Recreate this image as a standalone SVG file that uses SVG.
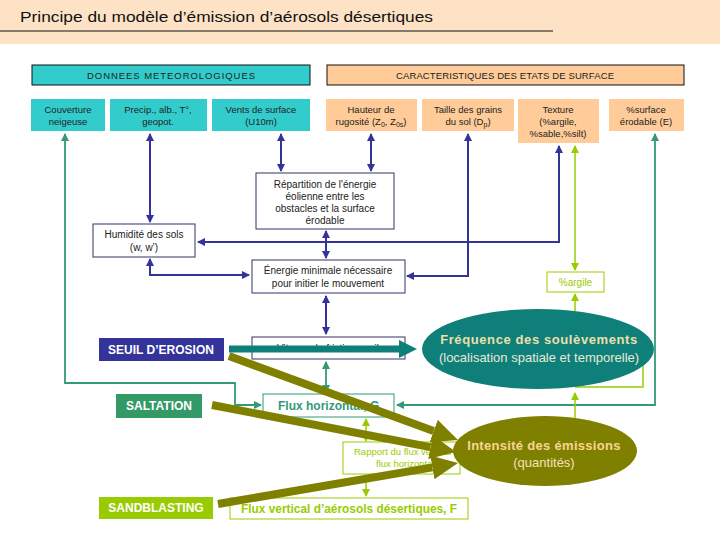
<svg xmlns="http://www.w3.org/2000/svg" width="720" height="540" viewBox="0 0 720 540">
<style>
text{font-family:"Liberation Sans",Arial,sans-serif;}
.t{font-size:9.5px;fill:#222;text-anchor:middle;}
.m{font-size:10px;fill:#222;text-anchor:middle;}
.b{font-size:12px;font-weight:bold;fill:#fff;text-anchor:middle;}
.nv{fill:none;stroke:#333399;stroke-width:2;}
.gr{fill:none;stroke:#339977;stroke-width:1.8;}
.lm{fill:none;stroke:#99CC00;stroke-width:1.5;}
.bx{fill:#fff;stroke:#333366;stroke-width:1;}
</style>
<defs>
<marker id="an" viewBox="0 -4 8 8" refX="7" refY="0" markerWidth="8" markerHeight="8" markerUnits="userSpaceOnUse" orient="auto-start-reverse"><path d="M0,-4 L8,0 L0,4 z" fill="#333399"/></marker>
<marker id="ag" viewBox="0 -4 8 8" refX="7" refY="0" markerWidth="8" markerHeight="8" markerUnits="userSpaceOnUse" orient="auto-start-reverse"><path d="M0,-4 L8,0 L0,4 z" fill="#339977"/></marker>
<marker id="al" viewBox="0 -4 8 8" refX="7" refY="0" markerWidth="8" markerHeight="8" markerUnits="userSpaceOnUse" orient="auto-start-reverse"><path d="M0,-4 L8,0 L0,4 z" fill="#99CC00"/></marker>
<marker id="ao" viewBox="0 -12 26 24" refX="0" refY="0" markerWidth="26" markerHeight="24" markerUnits="userSpaceOnUse" orient="auto"><path d="M0,-12 L26,0 L0,12 z" fill="#808000"/></marker>
<marker id="at" viewBox="0 -9 18 18" refX="0" refY="0" markerWidth="18" markerHeight="18" markerUnits="userSpaceOnUse" orient="auto"><path d="M0,-9 L18,0 L0,9 z" fill="#0F7F7A"/></marker>
</defs>

<g id="header">
<rect x="0" y="0" width="720" height="44" fill="#FDE2C6"/>
<text x="20" y="22" font-size="15.5" fill="#111" textLength="413" lengthAdjust="spacingAndGlyphs">Principe du modèle d’émission d’aérosols désertiques</text>
<line x1="0" y1="31" x2="553" y2="31" stroke="#111" stroke-width="1"/>
</g>

<g id="donnees">
<rect x="32" y="65" width="278" height="20" fill="#33CCCC" stroke="#111" stroke-width="1"/>
<text class="t" x="171" y="78.5" font-size="9" textLength="168" lengthAdjust="spacing">DONNEES METEOROLOGIQUES</text>
</g>
<g id="caracteristiques">
<rect x="327" y="65" width="357" height="20" fill="#FFCC99" stroke="#111" stroke-width="1"/>
<text class="t" x="505" y="78.5" font-size="9" textLength="218" lengthAdjust="spacing">CARACTERISTIQUES DES ETATS DE SURFACE</text>
</g>

<g id="couverture">
<rect x="31" y="99" width="74" height="32" fill="#33CCCC"/>
<text class="t" x="68" y="113">Couverture</text>
<text class="t" x="68" y="125">neigeuse</text>
</g>
<g id="precip">
<rect x="110" y="99" width="97" height="32" fill="#33CCCC"/>
<text class="t" x="158" y="113">Precip., alb., T°,</text>
<text class="t" x="158" y="125">geopot.</text>
</g>
<g id="vents">
<rect x="212" y="99" width="98" height="32" fill="#33CCCC"/>
<text class="t" x="261" y="113">Vents de surface</text>
<text class="t" x="261" y="125">(U10m)</text>
</g>
<g id="hauteur">
<rect x="326" y="99" width="91" height="32" fill="#FFCC99"/>
<text class="t" x="371" y="113">Hauteur de</text>
<text class="t" x="371" y="125">rugosité (Z<tspan font-size="7" dy="2">0</tspan><tspan dy="-2">, Z</tspan><tspan font-size="7" dy="2">0s</tspan><tspan dy="-2">)</tspan></text>
</g>
<g id="taille">
<rect x="422" y="99" width="92" height="32" fill="#FFCC99"/>
<text class="t" x="468" y="113">Taille des grains</text>
<text class="t" x="468" y="125">du sol (D<tspan font-size="7" dy="2">p</tspan><tspan dy="-2">)</tspan></text>
</g>
<g id="texture">
<rect x="518" y="99" width="81" height="44" fill="#FFCC99"/>
<text class="t" x="558" y="113">Texture</text>
<text class="t" x="558" y="125">(%argile,</text>
<text class="t" x="558" y="137">%sable,%silt)</text>
</g>
<g id="surface">
<rect x="609" y="99" width="75" height="32" fill="#FFCC99"/>
<text class="t" x="646" y="113">%surface</text>
<text class="t" x="646" y="125">érodable (E)</text>
</g>

<g id="humidite">
<rect class="bx" x="93" y="224" width="102" height="33"/>
<text class="m" x="144" y="238">Humidité des sols</text>
<text class="m" x="144" y="250.5">(w, w’)</text>
</g>
<g id="repartition">
<rect class="bx" x="256" y="173" width="138" height="56"/>
<text class="m" x="325" y="187.5">Répartition de l'énergie</text>
<text class="m" x="325" y="199.5">éolienne entre les</text>
<text class="m" x="325" y="211.5">obstacles et la surface</text>
<text class="m" x="325" y="223.5">érodable</text>
</g>
<g id="energie">
<rect class="bx" x="252" y="260" width="153" height="33"/>
<text class="m" x="328" y="273.5">Énergie minimale nécessaire</text>
<text class="m" x="328" y="286.5">pour initier le mouvement</text>
</g>
<g id="vitesse">
<rect class="bx" x="252" y="337" width="153" height="22"/>
<text class="m" x="328" y="352" font-size="11">Vitesse de friction seuil</text>
</g>
<g id="argile">
<rect x="547" y="272" width="57" height="20" fill="#fff" stroke="#99CC00" stroke-width="1"/>
<text class="m" x="575.5" y="285.5" fill="#99CC00" style="fill:#99CC00">%argile</text>
</g>
<g id="seuil">
<rect x="99" y="338" width="125" height="23" fill="#333399"/>
<text class="b" x="161" y="354">SEUIL D’EROSION</text>
</g>
<g id="saltation">
<rect x="116" y="394" width="86" height="24" fill="#339966"/>
<text class="b" x="159" y="410">SALTATION</text>
</g>
<g id="sandblasting">
<rect x="99" y="497" width="114" height="22" fill="#99CC00"/>
<text class="b" x="156" y="512">SANDBLASTING</text>
</g>
<g id="fluxh">
<rect x="263" y="394" width="131" height="23" fill="#fff" stroke="#339977" stroke-width="1"/>
<text x="278" y="410" font-size="12" font-weight="bold" fill="#339977">Flux horizontal, G</text>
</g>
<g id="rapport">
<rect x="343" y="442" width="117" height="32" fill="#fff" stroke="#99CC00" stroke-width="1"/>
<text x="354" y="455" font-size="9.5" fill="#99CC00">Rapport du flux vertical au</text>
<text x="376" y="467" font-size="9.5" fill="#99CC00">flux horizontal</text>
</g>
<g id="fluxv">
<rect x="230" y="498" width="238" height="21" fill="#fff" stroke="#99CC00" stroke-width="1"/>
<text x="349" y="512.5" font-size="12" font-weight="bold" fill="#99CC00" text-anchor="middle" textLength="216" lengthAdjust="spacingAndGlyphs">Flux vertical d’aérosols désertiques, F</text>
</g>

<g id="connectors">
<line class="nv" x1="150" y1="134" x2="150" y2="222" marker-start="url(#an)" marker-end="url(#an)"/>
<line class="nv" x1="281" y1="134" x2="281" y2="171" marker-start="url(#an)" marker-end="url(#an)"/>
<line class="nv" x1="371" y1="134" x2="371" y2="171" marker-start="url(#an)" marker-end="url(#an)"/>
<polyline class="nv" points="559,146 559,242 198,242" marker-start="url(#an)" marker-end="url(#an)"/>
<polyline class="nv" points="468,134 468,276 407,276" marker-start="url(#an)" marker-end="url(#an)"/>
<line class="nv" x1="326" y1="231" x2="326" y2="258" marker-start="url(#an)" marker-end="url(#an)"/>
<polyline class="nv" points="150,259 150,275 249,275" marker-start="url(#an)" marker-end="url(#an)"/>
<line class="nv" x1="326" y1="296" x2="326" y2="334" marker-start="url(#an)" marker-end="url(#an)"/>
<polyline class="gr" points="65,134 65,383 235,383 235,405 261,405" marker-start="url(#ag)" marker-end="url(#ag)"/>
<polyline class="gr" points="655,134 655,405 397,405" marker-start="url(#ag)" marker-end="url(#ag)"/>
<line class="gr" x1="326" y1="362" x2="326" y2="392" marker-start="url(#ag)" marker-end="url(#ag)"/>
<line class="lm" x1="575" y1="146" x2="575" y2="270" marker-start="url(#al)" marker-end="url(#al)"/>
<line class="lm" x1="575" y1="312" x2="575" y2="294" marker-end="url(#al)"/>
<polyline class="lm" points="643,360 643,387 575,387"/>
<line class="lm" x1="575" y1="420" x2="575" y2="393" marker-end="url(#al)"/>
<line class="lm" x1="366" y1="419" x2="366" y2="441" marker-start="url(#al)" marker-end="url(#al)"/>
<line class="lm" x1="366" y1="475" x2="366" y2="496" marker-start="url(#al)" marker-end="url(#al)"/>
</g>

<g id="frequence">
<ellipse cx="538" cy="349" rx="116" ry="40" fill="#0F7F7A"/>
<text x="539" y="344" font-size="13" font-weight="bold" fill="#EEE0A8" text-anchor="middle" letter-spacing="0.6">Fréquence des soulèvements</text>
<text x="539" y="362" font-size="13" fill="#E6EAD6" text-anchor="middle">(localisation spatiale et temporelle)</text>
</g>
<g id="intensite">
<ellipse cx="545" cy="451" rx="92" ry="35" fill="#808000"/>
<text x="544" y="450" font-size="13" font-weight="bold" fill="#F8D596" text-anchor="middle" letter-spacing="0.3">Intensité des émissions</text>
<text x="544" y="467" font-size="13" fill="#F3E3B8" text-anchor="middle">(quantités)</text>
</g>

<g id="main-arrows">
<line x1="229" y1="349" x2="399" y2="349" stroke="#0F7F7A" stroke-width="7" marker-end="url(#at)"/>
<line x1="229" y1="356" x2="433.6" y2="431.1" stroke="#808000" stroke-width="8" marker-end="url(#ao)"/>
<line x1="212" y1="405" x2="430.5" y2="447.1" stroke="#808000" stroke-width="8" marker-end="url(#ao)"/>
<line x1="218" y1="504" x2="432.4" y2="467.4" stroke="#808000" stroke-width="8" marker-end="url(#ao)"/>
</g>
</svg>
